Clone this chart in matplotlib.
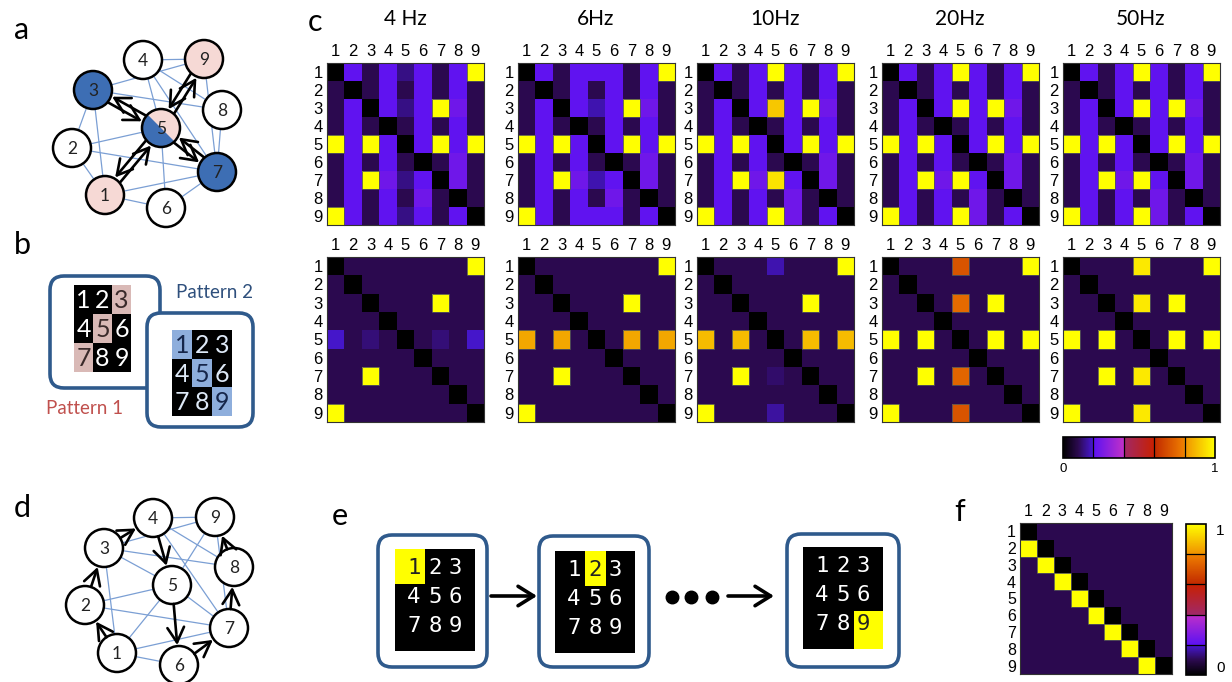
import numpy as np
import matplotlib
matplotlib.use('Agg')
import matplotlib.pyplot as plt
from matplotlib.colors import LinearSegmentedColormap, to_rgb
from matplotlib.cm import ScalarMappable
from matplotlib.patches import Circle, Polygon, Rectangle, FancyBboxPatch, FancyArrowPatch

W, H = 1232, 682
plt.rcParams['font.family'] = ['Liberation Sans', 'DejaVu Sans']
LABEL_FONT = ['Lato', 'DejaVu Sans']

# ---------------------------------------------------------------- data
# levels used in the connectivity matrices
K, D, M, M2, B, V, Y = 0.0, 0.1, 0.14, 0.17, 0.21, 0.24, 1.0
ticks = ['1', '2', '3', '4', '5', '6', '7', '8', '9']
freqs = ['4 Hz', '6Hz', '10Hz', '20Hz', '50Hz']

top_4hz = [
    [K, B, D, B, M, B, D, B, Y],
    [D, K, D, B, D, B, D, B, D],
    [D, B, K, B, M, B, Y, V, D],
    [D, B, D, K, D, B, D, B, D],
    [Y, B, Y, B, K, B, Y, B, Y],
    [D, B, D, B, D, K, D, V, D],
    [D, B, Y, V, M, B, K, V, D],
    [D, B, D, B, D, V, D, K, D],
    [Y, B, D, B, M, B, D, B, K],
]
top_6hz = [
    [K, B, D, B, B, B, D, B, Y],
    [D, K, D, B, D, B, D, B, D],
    [D, B, K, B, M2, B, Y, V, D],
    [D, B, D, K, D, B, D, B, D],
    [Y, B, Y, B, K, B, Y, B, Y],
    [D, B, D, B, D, K, D, V, D],
    [D, B, Y, V, M2, B, K, V, D],
    [D, B, D, B, D, V, D, K, D],
    [Y, B, D, B, B, B, D, B, K],
]
top_10hz = [
    [K, B, D, B, Y, B, D, B, Y],
    [D, K, D, B, D, B, D, B, D],
    [D, B, K, B, 0.9, B, Y, V, D],
    [D, B, D, K, D, B, D, B, D],
    [Y, B, Y, B, K, B, Y, B, Y],
    [D, B, D, B, D, K, D, V, D],
    [D, B, Y, V, 0.95, B, K, V, D],
    [D, B, D, B, D, V, D, K, D],
    [Y, B, D, B, Y, V, D, B, K],
]
top_20hz = [
    [K, B, D, B, Y, B, D, B, Y],
    [D, K, D, B, D, B, D, B, D],
    [D, B, K, B, Y, B, Y, V, D],
    [D, B, D, K, D, B, D, B, D],
    [Y, B, Y, B, K, B, Y, B, Y],
    [D, B, D, B, D, K, D, V, D],
    [D, B, Y, V, Y, B, K, V, D],
    [D, B, D, B, D, V, D, K, D],
    [Y, B, D, B, Y, V, D, B, K],
]
top_50hz = [
    [K, B, D, B, Y, B, D, B, Y],
    [D, K, D, B, D, B, D, B, D],
    [D, B, K, B, Y, B, Y, V, D],
    [D, B, D, K, D, B, D, B, D],
    [Y, B, Y, B, K, B, Y, B, Y],
    [D, B, D, B, D, K, D, V, D],
    [D, B, Y, V, Y, B, K, V, D],
    [D, B, D, B, D, V, D, K, D],
    [Y, B, D, B, Y, V, D, B, K],
]
bot_4hz = [
    [K, D, D, D, D, D, D, D, Y],
    [D, K, D, D, D, D, D, D, D],
    [D, D, K, D, D, D, Y, D, D],
    [D, D, D, K, D, D, D, D, D],
    [0.19, D, 0.13, D, K, D, 0.13, D, 0.19],
    [D, D, D, D, D, K, D, D, D],
    [D, D, Y, D, D, D, K, D, D],
    [D, D, D, D, D, D, D, K, D],
    [Y, D, D, D, D, D, D, D, K],
]
bot_6hz = [
    [K, D, D, D, D, D, D, D, Y],
    [D, K, D, D, D, D, D, D, D],
    [D, D, K, D, D, D, Y, D, D],
    [D, D, D, K, D, D, D, D, D],
    [0.84, D, 0.84, D, K, D, 0.84, D, 0.84],
    [D, D, D, D, D, K, D, D, D],
    [D, D, Y, D, D, D, K, D, D],
    [D, D, D, D, D, D, D, K, D],
    [Y, D, D, D, D, D, D, D, K],
]
bot_10hz = [
    [K, D, D, D, 0.17, D, D, D, Y],
    [D, K, D, D, D, D, D, D, D],
    [D, D, K, D, D, D, Y, D, D],
    [D, D, D, K, D, D, D, D, D],
    [0.88, D, 0.88, D, K, D, 0.88, D, 0.88],
    [D, D, D, D, D, K, D, D, D],
    [D, D, Y, D, 0.12, D, K, D, D],
    [D, D, D, D, D, D, D, K, D],
    [Y, D, D, D, 0.16, D, D, D, K],
]
bot_20hz = [
    [K, D, D, D, 0.7, D, D, D, Y],
    [D, K, D, D, D, D, D, D, D],
    [D, D, K, D, 0.75, D, Y, D, D],
    [D, D, D, K, D, D, D, D, D],
    [Y, D, Y, D, K, D, Y, D, Y],
    [D, D, D, D, D, K, D, D, D],
    [D, D, Y, D, 0.74, D, K, D, D],
    [D, D, D, D, D, D, D, K, D],
    [Y, D, D, D, 0.7, D, D, D, K],
]
bot_50hz = [
    [K, D, D, D, 0.96, D, D, D, Y],
    [D, K, D, D, D, D, D, D, D],
    [D, D, K, D, 0.96, D, Y, D, D],
    [D, D, D, K, D, D, D, D, D],
    [Y, D, Y, D, K, D, Y, D, Y],
    [D, D, D, D, D, K, D, D, D],
    [D, D, Y, D, 0.96, D, K, D, D],
    [D, D, D, D, D, D, D, K, D],
    [Y, D, D, D, 0.96, D, D, D, K],
]
seq_matrix = [
    [K, D, D, D, D, D, D, D, D],
    [Y, K, D, D, D, D, D, D, D],
    [D, Y, K, D, D, D, D, D, D],
    [D, D, Y, K, D, D, D, D, D],
    [D, D, D, Y, K, D, D, D, D],
    [D, D, D, D, Y, K, D, D, D],
    [D, D, D, D, D, Y, K, D, D],
    [D, D, D, D, D, D, Y, K, D],
    [D, D, D, D, D, D, D, Y, K],
]
top_row = [top_4hz, top_6hz, top_10hz, top_20hz, top_50hz]
bottom_row = [bot_4hz, bot_6hz, bot_10hz, bot_20hz, bot_50hz]

# network diagrams (node 1..9 centres, picture pixels)
a_x = [105, 72, 93, 143, 161, 166, 217, 222, 204]
a_y = [195, 148, 90, 60, 128, 208, 172, 110, 59]
a_edges = [(4, 9), (3, 9), (3, 8), (4, 7), (9, 7), (8, 7), (4, 5), (3, 2), (3, 1),
           (2, 5), (2, 7), (1, 7), (1, 6), (6, 7), (6, 5), (2, 1), (4, 8)]
a_links = [(3, 5), (7, 5), (1, 5), (9, 5)]          # two-way strong links
a_blue, a_pink = [3, 7], [1, 9]

d_x = [117, 85, 104, 153, 172, 179, 229, 234, 215]
d_y = [653, 605, 548, 518, 585, 665, 628, 567, 517]
d_edges = [(4, 9), (4, 8), (4, 7), (9, 5), (9, 7), (3, 8), (3, 5), (3, 1), (2, 5),
           (2, 7), (1, 5), (1, 7), (1, 6), (5, 7), (3, 9)]
d_chain = [1, 2, 3, 4, 5, 6, 7, 8, 9]

pattern1_cells = [3, 5, 7]
pattern2_cells = [1, 5, 9]
sequence_cells = [1, 2, 9]

# ---------------------------------------------------------------- colormap
stops = [(0.0, '#000000', '#000000'), (0.1, '#2c0a50', '#2c0a50'),
         (0.2, '#4818d8', '#5c12f2'), (0.4, '#c030c8', '#a02868'),
         (0.6, '#c82000', '#c02800'), (0.8, '#f08000', '#f09000'),
         (1.0, '#ffff00', '#ffff00')]
cdict = {'red': [], 'green': [], 'blue': []}
for x, c0, c1 in stops:
    r0, r1 = to_rgb(c0), to_rgb(c1)
    for i, k in enumerate(('red', 'green', 'blue')):
        cdict[k].append((x, r0[i], r1[i]))
cmap = LinearSegmentedColormap('fire9', cdict, N=512)

fig = plt.figure(figsize=(W / 100, H / 100), dpi=100)
fig.patch.set_facecolor('white')


def px_axes(x0, y0, x1, y1):
    return fig.add_axes([x0 / W, 1 - y1 / H, (x1 - x0) / W, (y1 - y0) / H])


canvas = px_axes(0, 0, W, H)
canvas.set_xlim(0, W)
canvas.set_ylim(H, 0)
canvas.axis('off')


def draw_matrix(ax, mat, size=12):
    mat = np.array(mat)
    ax.imshow(mat, cmap=cmap, vmin=0, vmax=1, aspect='auto', interpolation='nearest')
    ax.set_xticks(range(9))
    ax.set_xticklabels(ticks)
    ax.set_yticks(range(9))
    ax.set_yticklabels(ticks)
    ax.xaxis.tick_top()
    ax.tick_params(length=0, pad=3, labelsize=size)
    for s in ax.spines.values():
        s.set_linewidth(0.8)
        s.set_color('#333333')
    for i, j in zip(*np.where(mat >= 0.5)):
        ax.add_patch(Rectangle((j - 0.5, i - 0.5), 1, 1, fill=False, ec='#555555', lw=0.6))


# ---------------------------------------------------------------- panel c
lefts = [327, 518, 697, 882, 1063]
for k, x0 in enumerate(lefts):
    ax = px_axes(x0, 63, x0 + 157, 225)
    draw_matrix(ax, top_row[k])
    canvas.text(x0 + 78, 19, freqs[k], ha='center', va='center', fontsize=15,
                family=LABEL_FONT)
    ax = px_axes(x0, 257, x0 + 157, 422)
    draw_matrix(ax, bottom_row[k])

cax = px_axes(1063, 437, 1215, 458)
cb = fig.colorbar(ScalarMappable(cmap=cmap), cax=cax, orientation='horizontal')
cb.set_ticks([])
cb.outline.set_linewidth(1.2)
for v in [0.2, 0.4, 0.6, 0.8]:
    cax.axvline(v, color='black', lw=0.9)
cax.text(0.0, -0.25, '0', transform=cax.transAxes, ha='center', va='top', fontsize=9.5)
cax.text(1.0, -0.25, '1', transform=cax.transAxes, ha='center', va='top', fontsize=9.5)

# ---------------------------------------------------------------- panel f
ax = px_axes(1020, 523, 1172, 674)
draw_matrix(ax, seq_matrix, size=11.5)
cax = px_axes(1186, 524, 1206, 675)
cb = fig.colorbar(ScalarMappable(cmap=cmap), cax=cax, orientation='vertical')
cb.set_ticks([])
cb.outline.set_linewidth(1.2)
for v in [0.2, 0.4, 0.6, 0.8]:
    cax.axhline(v, color='black', lw=0.9)
cax.text(1.5, 1.0, '1', transform=cax.transAxes, ha='left', va='top', fontsize=11)
cax.text(1.5, 0.0, '0', transform=cax.transAxes, ha='left', va='bottom', fontsize=11)

# ---------------------------------------------------------------- networks
R = 19
EDGE_BLUE = '#7b9fd4'
NODE_BLUE = '#3d6eb4'
NODE_PINK = '#f6d9d5'


def shorten(p0, p1, offset=0.0):
    p0, p1 = np.array(p0, float), np.array(p1, float)
    u = (p1 - p0) / np.hypot(*(p1 - p0))
    n = np.array([-u[1], u[0]])
    return p0 + u * R + n * offset, p1 - u * (R + 1) + n * offset


def arrow(ax, a, b, lw=1.9):
    ax.add_patch(FancyArrowPatch(a, b, arrowstyle='->,head_length=0.9,head_width=0.5',
                                 mutation_scale=12, lw=lw, color='black',
                                 shrinkA=0, shrinkB=0, zorder=4))


def network(ax, xs, ys, edges, faces, split=None):
    for i, j in edges:
        ax.plot([xs[i - 1], xs[j - 1]], [ys[i - 1], ys[j - 1]], color=EDGE_BLUE,
                lw=0.9, zorder=1)
    for n in range(9):
        x, y = xs[n], ys[n]
        ax.add_patch(Circle((x, y), R, fc=faces.get(n + 1, 'white'), ec='none', zorder=3))
        if split == n + 1:
            # blue lower-left half, split along the upper-left / lower-right diagonal
            t = np.radians(np.linspace(45, 225, 40))
            ax.add_patch(Polygon(np.column_stack([x + R * np.cos(t), y + R * np.sin(t)]),
                                 closed=True, fc=NODE_BLUE, ec='none', zorder=3.1))
        ax.add_patch(Circle((x, y), R, fc='none', ec='black', lw=1.8, zorder=3.2))
        ax.text(x, y + 1, str(n + 1), ha='center', va='center', fontsize=12.5,
                family=LABEL_FONT, color='#222222', zorder=5)


faces_a = {n: NODE_BLUE for n in a_blue}
faces_a.update({n: NODE_PINK for n in a_pink})
faces_a[5] = NODE_PINK
network(canvas, a_x, a_y, a_edges, faces_a, split=5)
for i, j in a_links:
    p, q = (a_x[i - 1], a_y[i - 1]), (a_x[j - 1], a_y[j - 1])
    s, e = shorten(p, q, 3.5)
    arrow(canvas, s, e)
    s, e = shorten(q, p, 3.5)
    arrow(canvas, s, e)

network(canvas, d_x, d_y, d_edges, {})
for i, j in zip(d_chain[:-1], d_chain[1:]):
    s, e = shorten((d_x[i - 1], d_y[i - 1]), (d_x[j - 1], d_y[j - 1]))
    arrow(canvas, s, e)

# ---------------------------------------------------------------- panel b
BOX_EDGE = '#2f5a8c'


def rbox(ax, x0, y0, x1, y1):
    ax.add_patch(FancyBboxPatch((x0, y0), x1 - x0, y1 - y0,
                                boxstyle='round,pad=0,rounding_size=14',
                                fc='white', ec=BOX_EDGE, lw=2.6, zorder=2))


def pattern_grid(ax, x0, y0, cw, ch, cells, hl, txt_on, txt_off, fs, family):
    ax.add_patch(Rectangle((x0, y0), 3 * cw, 3 * ch, fc='black', ec='none', zorder=3))
    for n in range(1, 10):
        r, c = (n - 1) // 3, (n - 1) % 3
        on = n in cells
        if on:
            ax.add_patch(Rectangle((x0 + c * cw, y0 + r * ch), cw, ch, fc=hl,
                                   ec='none', zorder=3))
        ax.text(x0 + (c + 0.5) * cw, y0 + (r + 0.55) * ch, str(n), ha='center',
                va='center', fontsize=fs, family=family,
                color=txt_on if on else txt_off, zorder=4)


rbox(canvas, 50, 276, 160, 388)
pattern_grid(canvas, 74, 285, 19, 29, pattern1_cells, '#d9b9b6', '#3a2a2a', 'white',
             18, LABEL_FONT)
rbox(canvas, 147, 313, 253, 427)
pattern_grid(canvas, 172, 330, 20, 28.5, pattern2_cells, '#8eaedc', '#16264a', '#dde8f6',
             18, LABEL_FONT)
canvas.text(215, 292, 'Pattern 2', ha='center', va='center', fontsize=13.5,
            family=LABEL_FONT, color='#2e4f7c')
canvas.text(85, 408, 'Pattern 1', ha='center', va='center', fontsize=13.5,
            family=LABEL_FONT, color='#c0504d')

# ---------------------------------------------------------------- panel e
e_boxes = [(378, 535, 487, 667), (539, 536, 649, 667), (787, 534, 899, 667)]
e_grids = [(395, 549), (555, 551), (803, 547)]
grid_w, grid_h = 80, 102
col_off = [19, 40, 60]
row_off = [19, 48, 77]
for (bx0, by0, bx1, by1), (gx, gy), hl in zip(e_boxes, e_grids, sequence_cells):
    rbox(canvas, bx0, by0, bx1, by1)
    canvas.add_patch(Rectangle((gx, gy), grid_w, grid_h, fc='black', ec='none', zorder=3))
    cb_x = [0, (col_off[0] + col_off[1]) / 2 + 0.5, (col_off[1] + col_off[2]) / 2 + 0.5, grid_w]
    cb_y = [0, (row_off[0] + row_off[1]) / 2 + 1, (row_off[1] + row_off[2]) / 2 + 1, grid_h]
    r, c = (hl - 1) // 3, (hl - 1) % 3
    canvas.add_patch(Rectangle((gx + cb_x[c], gy + cb_y[r]), cb_x[c + 1] - cb_x[c],
                               cb_y[r + 1] - cb_y[r], fc='#ffff00', ec='none', zorder=3))
    for n in range(1, 10):
        rr, cc = (n - 1) // 3, (n - 1) % 3
        canvas.text(gx + col_off[cc], gy + row_off[rr], str(n), ha='center', va='center',
                    fontsize=16, family=['DejaVu Sans Mono'],
                    color='#222222' if n == hl else 'white', zorder=4)

for x0, x1 in [(491, 537), (728, 774)]:
    canvas.add_patch(FancyArrowPatch((x0, 596), (x1, 596),
                                     arrowstyle='->,head_length=0.8,head_width=0.5',
                                     mutation_scale=14, lw=2.6, color='black',
                                     shrinkA=0, shrinkB=0))
dots_x = [672, 691, 712]
canvas.plot(dots_x, [597] * 3, 'o', color='black', ms=9)

# ---------------------------------------------------------------- panel letters
for letter, (x, y) in zip('abcdef', [(22, 30), (22, 245), (315, 22), (22, 508),
                                      (340, 516), (960, 512)]):
    canvas.text(x, y, letter, ha='center', va='center', fontsize=22, family=LABEL_FONT)

fig.savefig('out.png', dpi=100)
